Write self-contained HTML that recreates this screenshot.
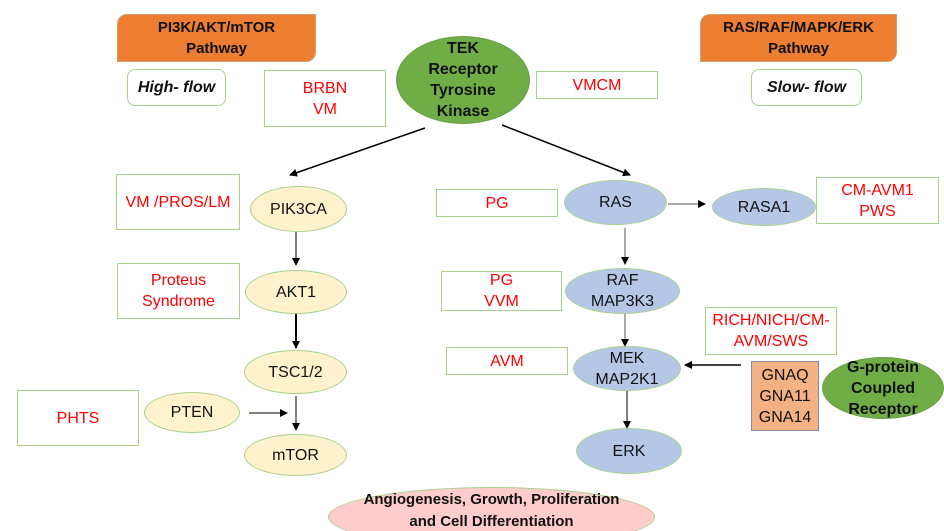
<!DOCTYPE html>
<html><head><meta charset="utf-8"><style>
html,body{margin:0;width:944px;height:531px;overflow:hidden;background:#fff}
body{position:relative;font-family:"Liberation Sans",sans-serif}
.a{position:absolute;box-sizing:border-box;display:flex;align-items:center;justify-content:center;text-align:center;font-size:16px;line-height:21px}
.bx{border:1.5px solid #a9d18e;color:#f00;background:#fff}
.or{background:#ed7d31;border:1px solid #c9a36a;font-weight:bold;color:#111;border-radius:10px 0 10px 0;font-size:15px}
.fl{border:1.5px solid #a9d18e;border-radius:8px;font-weight:bold;font-style:italic;color:#111}
.ye{background:#fff2cc;border:1.5px solid #a9d18e;border-radius:50%;color:#111}
.bl{background:#b4c7e7;border:1.5px solid #a9d18e;border-radius:50%;color:#111}
.gr{background:#70ad47;border:1px solid #6a9f45;border-radius:50%;font-weight:bold;color:#111}
</style></head><body>
<svg style="position:absolute;left:0;top:0" width="944" height="531">
<defs><marker id="m" markerWidth="8" markerHeight="8" refX="7" refY="4" orient="auto" markerUnits="userSpaceOnUse"><path d="M0,0L8,4L0,8z" fill="#000"/></marker></defs>
<g stroke="#000" fill="none">
<line x1="425" y1="128" x2="290" y2="175" stroke-width="1.5" marker-end="url(#m)"/>
<line x1="502" y1="125" x2="630" y2="175" stroke-width="1.5" marker-end="url(#m)"/>
<line x1="296" y1="232" x2="296" y2="265" marker-end="url(#m)"/>
<line x1="296" y1="314" x2="296" y2="348" stroke-width="2" marker-end="url(#m)"/>
<line x1="296" y1="396" x2="296" y2="430" marker-end="url(#m)"/>
<line x1="249" y1="413" x2="287" y2="413" marker-end="url(#m)"/>
<line x1="668" y1="204" x2="705" y2="204" stroke="#555" marker-end="url(#m)"/>
<line x1="625" y1="228" x2="625" y2="264" stroke="#555" marker-end="url(#m)"/>
<line x1="625" y1="314" x2="625" y2="346" stroke="#555" marker-end="url(#m)"/>
<line x1="741" y1="365" x2="685" y2="365" stroke-width="1.5" marker-end="url(#m)"/>
<line x1="627" y1="391" x2="627" y2="428" marker-end="url(#m)"/>
</g></svg>
<div class="a or" style="left:117px;top:14px;width:199px;height:48px">PI3K/AKT/mTOR<br>Pathway</div>
<div class="a or" style="left:700px;top:14px;width:197px;height:48px">RAS/RAF/MAPK/ERK<br>Pathway</div>
<div class="a fl" style="left:127px;top:69px;width:99px;height:37px">High- flow</div>
<div class="a fl" style="left:751px;top:69px;width:111px;height:37px">Slow- flow</div>
<div class="a bx" style="left:264px;top:70px;width:122px;height:57px">BRBN<br>VM</div>
<div class="a gr" style="left:396px;top:36px;width:134px;height:88px">TEK<br>Receptor<br>Tyrosine<br>Kinase</div>
<div class="a bx" style="left:536px;top:71px;width:122px;height:28px">VMCM</div>
<div class="a bx" style="left:116px;top:174px;width:124px;height:56px">VM /PROS/LM</div>
<div class="a ye" style="left:250px;top:186px;width:97px;height:46px">PIK3CA</div>
<div class="a bx" style="left:117px;top:263px;width:123px;height:56px">Proteus<br>Syndrome</div>
<div class="a ye" style="left:245px;top:270px;width:102px;height:44px">AKT1</div>
<div class="a ye" style="left:244px;top:350px;width:103px;height:44px">TSC1/2</div>
<div class="a ye" style="left:144px;top:392px;width:96px;height:41px">PTEN</div>
<div class="a bx" style="left:17px;top:390px;width:122px;height:56px">PHTS</div>
<div class="a ye" style="left:244px;top:434px;width:103px;height:42px">mTOR</div>
<div class="a bx" style="left:436px;top:189px;width:122px;height:28px">PG</div>
<div class="a bl" style="left:564px;top:180px;width:103px;height:45px">RAS</div>
<div class="a bl" style="left:712px;top:188px;width:104px;height:38px">RASA1</div>
<div class="a bx" style="left:816px;top:177px;width:123px;height:47px">CM-AVM1<br>PWS</div>
<div class="a bx" style="left:441px;top:271px;width:121px;height:40px">PG<br>VVM</div>
<div class="a bl" style="left:565px;top:268px;width:115px;height:46px">RAF<br>MAP3K3</div>
<div class="a bx" style="left:705px;top:307px;width:132px;height:48px">RICH/NICH/CM-<br>AVM/SWS</div>
<div class="a bx" style="left:446px;top:347px;width:122px;height:28px">AVM</div>
<div class="a bl" style="left:573px;top:346px;width:108px;height:45px">MEK<br>MAP2K1</div>
<div class="a" style="left:751px;top:361px;width:68px;height:70px;background:#f4b183;border:1.5px solid #7f8fa9;color:#111">GNAQ<br>GNA11<br>GNA14</div>
<div class="a gr" style="left:822px;top:357px;width:122px;height:62px">G-protein<br>Coupled<br>Receptor</div>
<div class="a bl" style="left:576px;top:428px;width:106px;height:46px">ERK</div>
<div class="a" style="left:328px;top:487px;width:327px;height:60px;background:#ffcccc;border:1.5px solid #a9d18e;border-radius:50%;font-weight:bold;color:#111;align-items:flex-start;padding-top:1px;font-size:15px;line-height:22px">Angiogenesis, Growth, Proliferation<br>and Cell Differentiation</div>
</body></html>
